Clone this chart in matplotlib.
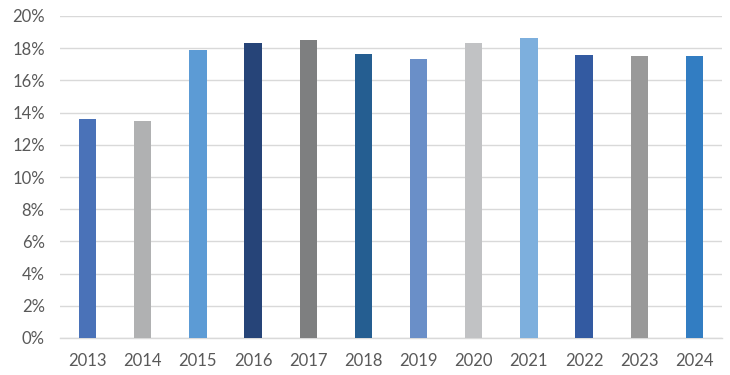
import matplotlib
matplotlib.use("Agg")
import matplotlib.pyplot as plt
from matplotlib.ticker import FuncFormatter

YEARS = ["2013", "2014", "2015", "2016", "2017", "2018",
         "2019", "2020", "2021", "2022", "2023", "2024"]
VALUES = [13.6, 13.5, 17.9, 18.3, 18.5, 17.65, 17.3, 18.3, 18.65, 17.6, 17.5, 17.5]
COLORS = ["#4A72B8", "#B0B1B2", "#5C9BD5", "#264478", "#7E7F80", "#255E91",
          "#6A8FC8", "#C1C2C4", "#7DAFDD", "#335AA1", "#999999", "#327DC2"]

# Lato is close to Calibri, which the original chart uses
plt.rcParams["font.family"] = ["Lato", "DejaVu Sans"]

fig = plt.figure(figsize=(7.3, 3.75), dpi=100)
ax = fig.add_axes([60 / 730, 37 / 375, 662 / 730, 322 / 375])

x = range(len(YEARS))
ax.bar(x, VALUES, width=0.315, color=COLORS, zorder=3)

ax.set_ylim(0, 20)
ax.set_xlim(-0.5, len(YEARS) - 0.5)
ax.set_yticks(range(0, 21, 2))
ax.yaxis.set_major_formatter(FuncFormatter(lambda v, _: f"{v:.0f}%"))
ax.set_xticks(list(x))
ax.set_xticklabels(YEARS)

ax.grid(axis="y", color="#D9D9D9", linewidth=1.0, zorder=0)
for s in ["top", "right", "left"]:
    ax.spines[s].set_visible(False)
ax.spines["bottom"].set_color("#D9D9D9")
ax.spines["bottom"].set_linewidth(1.0)

ax.tick_params(axis="both", length=0, labelsize=12, colors="#595959")
ax.tick_params(axis="y", pad=11)
ax.tick_params(axis="x", pad=11)

fig.savefig("out.png", dpi=100)
